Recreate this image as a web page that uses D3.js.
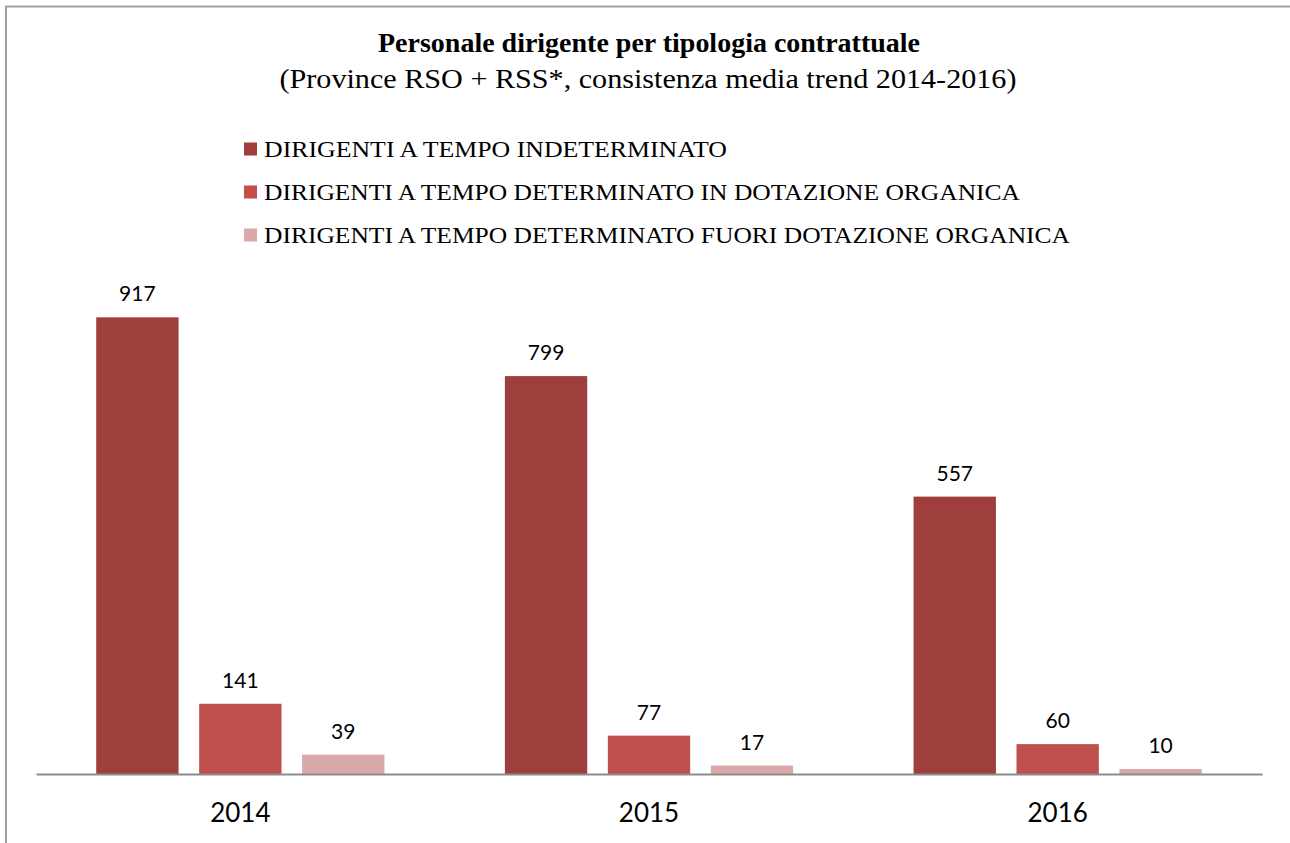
<!DOCTYPE html>
<html><head><meta charset="utf-8">
<script src="https://cdn.jsdelivr.net/npm/d3@7"></script>
<style>body{margin:0;background:#fff}svg{display:block}</style>
</head><body>
<svg id="c" width="1290" height="843"></svg>
<script>
const categories = ["2014", "2015", "2016"];
const seriesNames = [
  "DIRIGENTI A TEMPO INDETERMINATO",
  "DIRIGENTI A TEMPO DETERMINATO IN DOTAZIONE ORGANICA",
  "DIRIGENTI A TEMPO DETERMINATO FUORI DOTAZIONE ORGANICA"
];
const indeterminato = [917, 799, 557];
const determinatoIn = [141, 77, 60];
const determinatoFuori = [39, 17, 10];
const colors = ["#9e3f3d", "#c0504d", "#dba9a9"];
const titleText = "Personale dirigente per tipologia contrattuale";
const subtitleText = "(Province RSO + RSS*, consistenza media trend 2014-2016)";

const series = [indeterminato, determinatoIn, determinatoFuori];
const svg = d3.select("#c");

// frame
svg.append("path").attr("d", "M6,843 V6.5 H1290").attr("fill", "none")
  .attr("stroke", "#a0a0a0").attr("stroke-width", 2);

const x0 = d3.scaleBand().domain(categories).range([36, 1262]).paddingInner(0).paddingOuter(0);
const x1 = d3.scaleBand().domain(d3.range(3)).range([0, x0.bandwidth()]).paddingInner(0.2).paddingOuter(0.585);
const y = d3.scaleLinear().domain([0, 1000]).range([774, 276]);

const g = svg.append("g");
categories.forEach((c, ci) => {
  series.forEach((s, si) => {
    const v = s[ci];
    g.append("rect").attr("x", x0(c) + x1(si)).attr("y", y(v))
      .attr("width", x1.bandwidth()).attr("height", y(0) - y(v)).attr("fill", colors[si]);
    g.append("text").attr("x", x0(c) + x1(si) + x1.bandwidth() / 2).attr("y", y(v) - 16)
      .attr("text-anchor", "middle").attr("font-family", "Lato, 'Open Sans', sans-serif")
      .attr("font-size", 21).attr("fill", "#000").text(v);
  });
});

// axis
const xAxis = d3.axisBottom(x0).tickSize(0).tickPadding(0);
const ax = svg.append("g").attr("transform", "translate(0,774)").call(xAxis);
ax.select(".domain").attr("stroke", "#8c8c8c").attr("stroke-width", 2);
ax.selectAll("text").attr("font-family", "Lato, 'Open Sans', sans-serif").attr("font-size", 26)
  .attr("fill", "#000").attr("dy", "0").attr("y", 48);

// title
svg.append("text").attr("x", 649).attr("y", 52).attr("text-anchor", "middle")
  .attr("font-family", "'Liberation Serif', 'DejaVu Serif', serif").attr("font-weight", "bold")
  .attr("font-size", 28).attr("textLength", 542).attr("lengthAdjust", "spacingAndGlyphs").text(titleText);
svg.append("text").attr("x", 648).attr("y", 88).attr("text-anchor", "middle")
  .attr("font-family", "'Liberation Serif', 'DejaVu Serif', serif")
  .attr("font-size", 27).attr("textLength", 737).attr("lengthAdjust", "spacingAndGlyphs").text(subtitleText);

// legend
const legendW = [463, 756, 806];
const leg = svg.append("g");
seriesNames.forEach((n, i) => {
  const yy = 149 + i * 43;
  leg.append("rect").attr("x", 244).attr("y", yy - 6.5).attr("width", 13).attr("height", 13).attr("fill", colors[i]);
  leg.append("text").attr("x", 264).attr("y", yy + 7.5)
    .attr("font-family", "'Liberation Serif', 'DejaVu Serif', serif").attr("font-size", 23)
    .attr("textLength", legendW[i]).attr("lengthAdjust", "spacingAndGlyphs").text(n);
});
</script>
</body></html>
